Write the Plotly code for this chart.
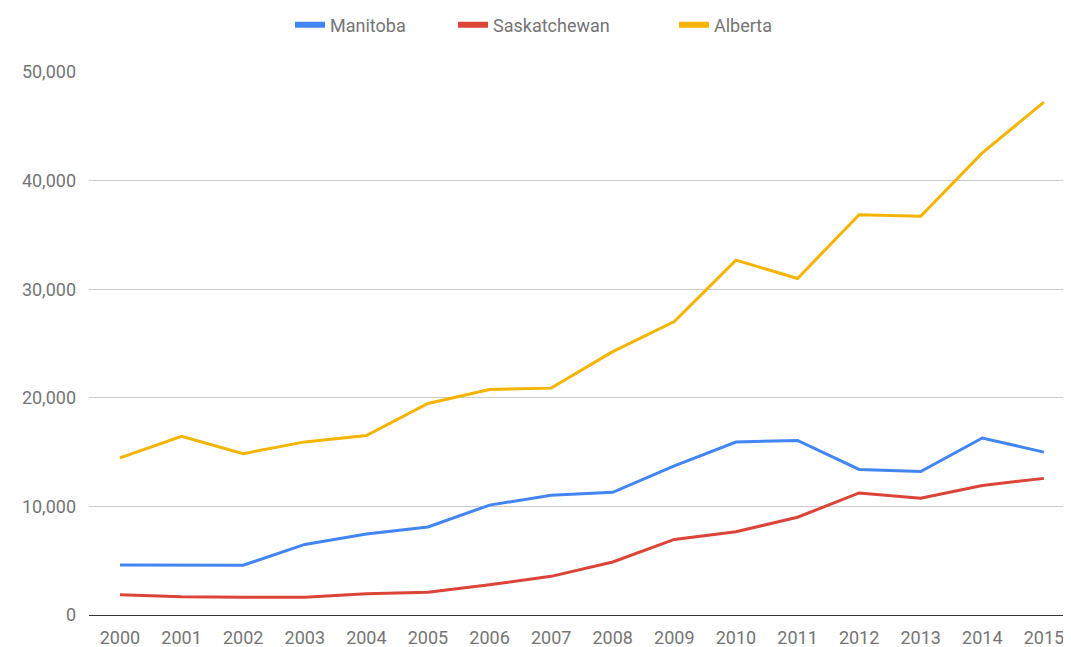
import plotly.graph_objects as go

years = [str(y) for y in range(2000, 2016)]
manitoba = [4610, 4580, 4580, 6500, 7460, 8110, 10120, 11020, 11300, 13730, 15930, 16070, 13400, 13210, 16300, 15000]
saskatchewan = [1860, 1670, 1640, 1640, 1950, 2100, 2790, 3560, 4880, 6960, 7670, 9000, 11240, 10750, 11930, 12580]
alberta = [14460, 16460, 14860, 15940, 16520, 19480, 20770, 20890, 24250, 27020, 32680, 30980, 36860, 36710, 42550, 47230]

series = [("Manitoba", manitoba, "#4285F4"),
          ("Saskatchewan", saskatchewan, "#DB4437"),
          ("Alberta", alberta, "#F4B400")]

# page body has an 8px margin; size the figure to fit the window
W, H = 1063, 639
legend_x = [290, 453, 674]  # left edge of each legend entry, page px

fig = go.Figure()
for i, (name, vals, col) in enumerate(series):
    fig.add_trace(go.Scatter(x=years, y=vals, name=name, mode="lines",
                             line=dict(color=col, width=3), showlegend=False))
    lg = "legend" if i == 0 else f"legend{i+1}"
    fig.add_trace(go.Scatter(x=[None], y=[None], name=name, mode="lines",
                             line=dict(color=col, width=6), showlegend=True,
                             legend=lg))
    fig.update_layout({lg: dict(x=(legend_x[i] - 8) / W, xanchor="left", xref="container",
                                y=1 - (25 - 8) / H, yanchor="middle", yref="container",
                                orientation="h", bgcolor="rgba(0,0,0,0)",
                                font=dict(family="Roboto", size=18, color="#757575"))})

fig.update_layout(
    width=W, height=H,
    margin=dict(l=81, r=0, t=64, b=32),
    paper_bgcolor="white", plot_bgcolor="white",
    font=dict(family="Roboto", size=18, color="#757575"),
)
fig.update_xaxes(type="category", range=[-0.503, 15.44], showgrid=False,
                 showline=True, linecolor="#333333", linewidth=1,
                 ticks="", ticklabelstandoff=6, tickfont=dict(size=18, color="#757575"),
                 zeroline=False, fixedrange=True)
fig.update_yaxes(range=[0, 50000], tickvals=[0, 10000, 20000, 30000, 40000, 50000],
                 ticktext=["0", "10,000", "20,000", "30,000", "40,000", "50,000"],
                 showgrid=True, gridcolor="#cccccc", gridwidth=1, zeroline=False,
                 ticks="", ticklabelstandoff=12, tickfont=dict(size=18, color="#757575"),
                 fixedrange=True)

fig.write_html("out.html")
